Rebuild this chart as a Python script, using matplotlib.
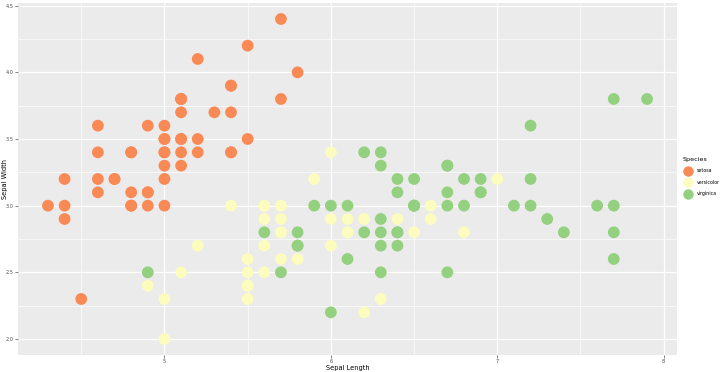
import matplotlib
matplotlib.use("Agg")
import matplotlib.pyplot as plt
from matplotlib.ticker import MultipleLocator, FormatStrFormatter
from matplotlib.lines import Line2D

species = ["setosa", "versicolor", "virginica"]
colors = ["#F98A55", "#FCFCBE", "#93D07F"]

setosa_length = [5.1, 4.9, 4.7, 4.6, 5.0, 5.4, 4.6, 5.0, 4.4, 4.9, 5.4, 4.8, 4.8, 4.3, 5.8, 5.7, 5.4,
                 5.1, 5.7, 5.1, 5.4, 5.1, 4.6, 5.1, 4.8, 5.0, 5.0, 5.2, 5.2, 4.7, 4.8, 5.4, 5.2, 5.5,
                 4.9, 5.0, 5.5, 4.9, 4.4, 5.1, 5.0, 4.5, 4.4, 5.0, 5.1, 4.8, 5.1, 4.6, 5.3, 5.0]
setosa_width = [3.5, 3.0, 3.2, 3.1, 3.6, 3.9, 3.4, 3.4, 2.9, 3.1, 3.7, 3.4, 3.0, 3.0, 4.0, 4.4, 3.9,
                3.5, 3.8, 3.8, 3.4, 3.7, 3.6, 3.3, 3.4, 3.0, 3.4, 3.5, 3.4, 3.2, 3.1, 3.4, 4.1, 4.2,
                3.1, 3.2, 3.5, 3.6, 3.0, 3.4, 3.5, 2.3, 3.2, 3.5, 3.8, 3.0, 3.8, 3.2, 3.7, 3.3]

versicolor_length = [7.0, 6.4, 6.9, 5.5, 6.5, 5.7, 6.3, 4.9, 6.6, 5.2, 5.0, 5.9, 6.0, 6.1, 5.6, 6.7,
                     5.6, 5.8, 6.2, 5.6, 5.9, 6.1, 6.3, 6.1, 6.4, 6.6, 6.8, 6.7, 6.0, 5.7, 5.5, 5.5,
                     5.8, 6.0, 5.4, 6.0, 6.7, 6.3, 5.6, 5.5, 5.5, 6.1, 5.8, 5.0, 5.6, 5.7, 5.7, 6.2,
                     5.1, 5.7]
versicolor_width = [3.2, 3.2, 3.1, 2.3, 2.8, 2.8, 3.3, 2.4, 2.9, 2.7, 2.0, 3.0, 2.2, 2.9, 2.9, 3.1,
                    3.0, 2.7, 2.2, 2.5, 3.2, 2.8, 2.5, 2.8, 2.9, 3.0, 2.8, 3.0, 2.9, 2.6, 2.4, 2.4,
                    2.7, 2.7, 3.0, 3.4, 3.1, 2.3, 3.0, 2.5, 2.6, 3.0, 2.6, 2.3, 2.7, 3.0, 2.9, 2.9,
                    2.5, 2.8]

virginica_length = [6.3, 5.8, 7.1, 6.3, 6.5, 7.6, 4.9, 7.3, 6.7, 7.2, 6.5, 6.4, 6.8, 5.7, 5.8, 6.4,
                    6.5, 7.7, 7.7, 6.0, 6.9, 5.6, 7.7, 6.3, 6.7, 7.2, 6.2, 6.1, 6.4, 7.2, 7.4, 7.9,
                    6.4, 6.3, 6.1, 7.7, 6.3, 6.4, 6.0, 6.9, 6.7, 6.9, 5.8, 6.8, 6.7, 6.7, 6.3, 6.5,
                    6.2, 5.9]
virginica_width = [3.3, 2.7, 3.0, 2.9, 3.0, 3.0, 2.5, 2.9, 2.5, 3.6, 3.2, 2.7, 3.0, 2.5, 2.8, 3.2,
                   3.0, 3.8, 2.6, 2.2, 3.2, 2.8, 2.8, 2.7, 3.3, 3.2, 2.8, 3.0, 2.8, 3.0, 2.8, 3.8,
                   2.8, 2.8, 2.6, 3.0, 3.4, 3.1, 3.0, 3.1, 3.1, 3.1, 2.7, 3.2, 3.3, 3.0, 2.5, 3.0,
                   3.4, 3.0]

lengths = [setosa_length, versicolor_length, virginica_length]
widths = [setosa_width, versicolor_width, virginica_width]

fig = plt.figure(figsize=(7.2, 3.72), dpi=100)
ax = fig.add_axes([0.025, 0.0457, 0.9153, 0.9463])
ax.set_facecolor("#EBEBEB")

for xs, ys, c in zip(lengths, widths, colors):
    ax.scatter(xs, ys, s=72, color=c, edgecolors="none", zorder=3)

ax.set_xlim(4.12, 8.08)
ax.set_ylim(1.88, 4.52)
ax.xaxis.set_major_locator(MultipleLocator(1))
ax.xaxis.set_minor_locator(MultipleLocator(0.5))
ax.yaxis.set_major_locator(MultipleLocator(0.5))
ax.yaxis.set_minor_locator(MultipleLocator(0.25))
ax.grid(which="major", color="white", linewidth=0.9, zorder=0)
ax.grid(which="minor", color="white", linewidth=0.45, zorder=0)
ax.set_axisbelow(True)
for s in ax.spines.values():
    s.set_visible(False)
ax.tick_params(which="major", length=2, width=0.5, color="#4D4D4D",
               labelsize=3.6, labelcolor="#4D4D4D", pad=1.2)
ax.tick_params(which="minor", length=0)
ax.yaxis.set_major_formatter(FormatStrFormatter("%.1f"))
ax.xaxis.set_major_formatter(FormatStrFormatter("%d"))

# axis titles placed by hand, the margins are too tight for labelpad
fig.text(0.4828, 0.004, "Sepal Length", fontsize=4.8, ha="center", va="bottom")
fig.text(0.003, 0.52, "Sepal Width", fontsize=4.8, rotation=90, ha="left", va="center")

handles = [Line2D([], [], marker="o", linestyle="none", markersize=7.5,
                  markerfacecolor=c, markeredgecolor="none") for c in colors]
leg = fig.legend(handles, species, title="Species", loc="upper left",
                 bbox_to_anchor=(0.944, 0.588), frameon=False, fontsize=3.4,
                 title_fontsize=4.6, handletextpad=0.7, labelspacing=1.4,
                 borderpad=0.2, handlelength=2.2)
leg._legend_box.align = "left"

fig.savefig("out.png", dpi=100)
